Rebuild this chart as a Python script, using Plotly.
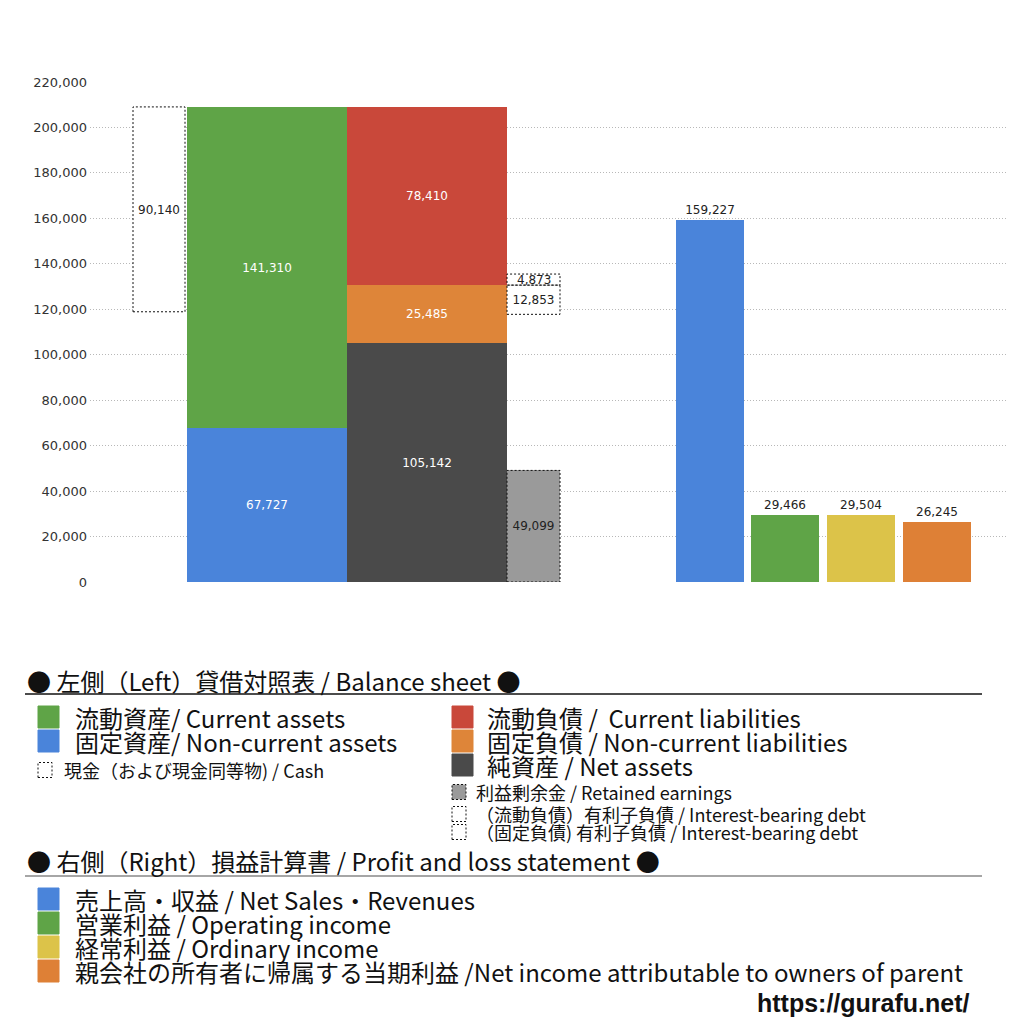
import plotly.graph_objects as go

# balance sheet (left side)
current_assets = 141310
noncurrent_assets = 67727
cash = 90140
current_liabilities = 78410
noncurrent_liabilities = 25485
net_assets = 105142
retained_earnings = 49099
ib_debt_current = 4873
ib_debt_noncurrent = 12853

# profit and loss (right side)
pl_names = ['売上高・収益', '営業利益', '経常利益', '親会社の所有者に帰属する当期利益']
pl_values = [159227, 29466, 29504, 26245]
pl_colors = ['#4a84da', '#5fa447', '#dcc349', '#de8036']

y_ticks = list(range(0, 220001, 20000))

FONT = 'Noto Sans CJK JP'
NUM_FONT = 'DejaVu Sans'

# page pixel positions (page body has an 8px margin)
OFF = 8
W = 1016
X0, X1 = 90, 1006
TOP, BOTTOM = 82, 582


def py(v):
    # page pixel row -> paper y
    return (BOTTOM - v) / (BOTTOM - TOP)


def pxp(v):
    # page pixel column -> paper x
    return (v - X0) / (X1 - X0)


fig = go.Figure()


def add_bar(x, w, val, base, color, txt_color='white', pos='inside', name='', label=True):
    fig.add_trace(go.Bar(
        x=[x], y=[val], base=[base], width=[w], name=name,
        marker=dict(color=color, line=dict(width=0)),
        text=[f'{val:,}'] if label else None, textposition=pos,
        insidetextanchor='middle', textangle=0, constraintext='none',
        textfont=dict(family=NUM_FONT, size=12, color=txt_color),
        showlegend=False,
    ))


def dotted_box(x, w, val, base):
    fig.add_shape(type='rect', xref='x', yref='y',
                  x0=x - w / 2, x1=x + w / 2, y0=base, y1=base + val,
                  line=dict(color='#111', width=1, dash='2px,2px'),
                  layer='above')


total_assets = current_assets + noncurrent_assets

# cash box
add_bar(159, 52, cash, total_assets - cash, 'white', '#222', name='Cash')
dotted_box(159, 52, cash, total_assets - cash)

# assets bar
add_bar(267, 160, noncurrent_assets, 0, '#4a84da', name='Non-current assets')
add_bar(267, 160, current_assets, noncurrent_assets, '#5fa447', name='Current assets')

# liabilities + net assets bar
add_bar(427, 160, net_assets, 0, '#4a4a4a', name='Net assets')
add_bar(427, 160, noncurrent_liabilities, net_assets, '#de8539', name='Non-current liabilities')
add_bar(427, 160, current_liabilities, net_assets + noncurrent_liabilities, '#c9483a',
        name='Current liabilities')

# retained earnings and interest-bearing debt boxes
add_bar(533.5, 53, retained_earnings, 0, '#9a9a9a', '#222', name='Retained earnings')
dotted_box(533.5, 53, retained_earnings, 0)
nl_top = net_assets + noncurrent_liabilities
add_bar(533.5, 53, ib_debt_noncurrent, nl_top - ib_debt_noncurrent, 'white', '#222')
dotted_box(533.5, 53, ib_debt_noncurrent, nl_top - ib_debt_noncurrent)
add_bar(533.5, 53, ib_debt_current, nl_top, 'white', '#222', label=False)
dotted_box(533.5, 53, ib_debt_current, nl_top)
# box too thin for an inside label
fig.add_annotation(x=533.5, y=nl_top + ib_debt_current / 2, xref='x', yref='y',
                   text=f'{ib_debt_current:,}', showarrow=False,
                   font=dict(family=NUM_FONT, size=12, color='#222'))

# P/L bars
pl_x = [710, 785, 861, 937]
for xx, v, c, n in zip(pl_x, pl_values, pl_colors, pl_names):
    add_bar(xx, 68, v, 0, c, '#222', pos='outside', name=n)

fig.update_layout(
    width=W, height=W,
    margin=dict(l=X0 - OFF, r=W + OFF - X1, t=TOP - OFF, b=W + OFF - BOTTOM),
    paper_bgcolor='white', plot_bgcolor='white',
    barmode='overlay', bargap=0,
    font=dict(family=FONT, color='#222'),
    xaxis=dict(range=[X0, X1], visible=False, fixedrange=True),
    yaxis=dict(range=[0, 220000], tickvals=y_ticks, tickformat=',',
               showgrid=True, gridcolor='#b8b8b8', griddash='1px,2px', gridwidth=1,
               zeroline=False, showline=False, ticks='',
               tickfont=dict(family=NUM_FONT, size=13, color='#333'),
               ticklabelstandoff=2),
)


# legend block drawn as text + swatches
def text(x, y, s, size, color='#111'):
    fig.add_annotation(xref='paper', yref='paper', x=pxp(x), y=py(y),
                       text=s, showarrow=False,
                       xanchor='left', yanchor='middle',
                       font=dict(family=FONT, size=size, color=color))


def swatch(x, y, w, h, color, dotted=False):
    fig.add_shape(type='rect', xref='paper', yref='paper',
                  x0=pxp(x), x1=pxp(x + w), y0=py(y + h / 2), y1=py(y - h / 2),
                  fillcolor=color,
                  line=dict(color='#111' if dotted else color, width=1,
                            dash='2px,2px' if dotted else 'solid'))


def hline(y, color):
    fig.add_shape(type='line', xref='paper', yref='paper',
                  x0=pxp(25), x1=pxp(982), y0=py(y), y1=py(y),
                  line=dict(color=color, width=1.5))


BIG, SMALL = 24, 18

text(25, 680, '● 左側（Left）貸借対照表 / Balance sheet ●', BIG)
hline(694, '#111')

swatch(38, 717, 21, 22, '#5fa447')
text(73, 717, '流動資産/ Current assets', BIG)
swatch(38, 741, 21, 22, '#4a84da')
text(73, 741, '固定資産/ Non-current assets', BIG)
swatch(38, 770, 14, 15, 'white', dotted=True)
text(62, 770, '現金（および現金同等物) / Cash', SMALL)

swatch(452, 717, 21, 22, '#c9483a')
text(485, 717, '流動負債 /  Current liabilities', BIG)
swatch(452, 741, 21, 22, '#de8539')
text(485, 741, '固定負債 / Non-current liabilities', BIG)
swatch(452, 765, 21, 22, '#4a4a4a')
text(485, 765, '純資産 / Net assets', BIG)
swatch(452, 792, 14, 15, '#9a9a9a', dotted=True)
text(474, 792, '利益剰余金 / Retained earnings', SMALL)
swatch(452, 814, 14, 15, 'white', dotted=True)
text(474, 814, '（流動負債）有利子負債 / Interest-bearing debt', SMALL)
swatch(452, 832, 14, 15, 'white', dotted=True)
text(474, 832, '（固定負債) 有利子負債 / Interest-bearing debt', SMALL)

text(25, 860, '● 右側（Right）損益計算書 / Profit and loss statement ●', BIG)
hline(876, '#888')

pl_legend = ['売上高・収益 / Net Sales・Revenues', '営業利益 / Operating income',
             '経常利益 / Ordinary income',
             '親会社の所有者に帰属する当期利益 /Net income attributable to owners of parent']
for i, (lbl, c) in enumerate(zip(pl_legend, pl_colors)):
    yy = 899 + 24 * i
    swatch(38, yy, 21, 22, c)
    text(73, yy, lbl, BIG)

fig.add_annotation(xref='paper', yref='paper', x=pxp(972), y=py(1003),
                   text='<b>https://gurafu.net/</b>', showarrow=False,
                   xanchor='right', yanchor='middle',
                   font=dict(family='Liberation Sans', size=25, color='#111'))

fig.write_html('out.html')
